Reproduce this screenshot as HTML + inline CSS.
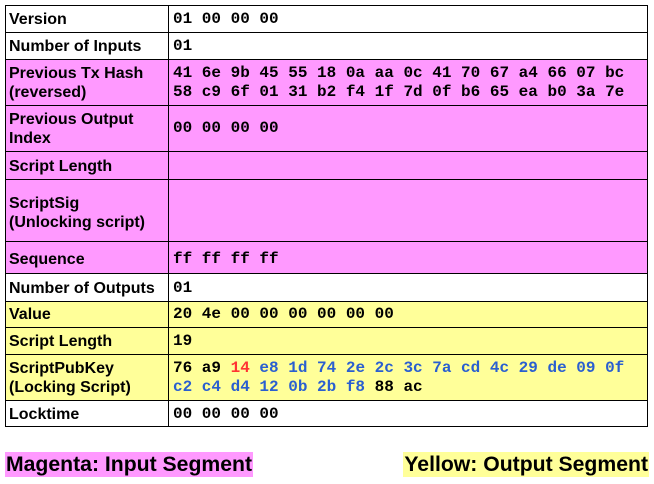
<!DOCTYPE html>
<html><head><style>
body{margin:0;width:654px;height:484px;background:#fff;position:relative;font-family:"Liberation Sans",sans-serif;}
.r{position:absolute;left:5px;width:643px;border:1px solid #000;box-sizing:border-box;}
.c{position:absolute;top:0;bottom:0;left:162px;border-left:1px solid #000;}
.l{position:absolute;left:3px;font-weight:bold;font-size:16px;line-height:19px;}
.v{position:absolute;left:167px;font-family:"Liberation Mono",monospace;font-weight:bold;font-size:16px;line-height:19px;white-space:pre;}
.m{background:#ff99ff}.y{background:#ffff99}
.b{color:#2a5fd0}.rd{color:#ff3333}
.lab{position:absolute;top:452px;font-weight:bold;font-size:21.2px;line-height:25px;padding:0 1px;}
</style></head><body>
<div class="r" style="top:5px;height:28px"><div class="c"></div><div class="l" style="top:4px">Version</div><div class="v" style="top:4px">01 00 00 00</div></div>
<div class="r" style="top:32px;height:28px"><div class="c"></div><div class="l" style="top:4px">Number of Inputs</div><div class="v" style="top:4px">01</div></div>
<div class="r m" style="top:59px;height:47px"><div class="c"></div><div class="l" style="top:4px">Previous Tx Hash<br>(reversed)</div><div class="v" style="top:4px">41 6e 9b 45 55 18 0a aa 0c 41 70 67 a4 66 07 bc
58 c9 6f 01 31 b2 f4 1f 7d 0f b6 65 ea b0 3a 7e</div></div>
<div class="r m" style="top:105px;height:47px"><div class="c"></div><div class="l" style="top:4px">Previous Output<br>Index</div><div class="v" style="top:13px">00 00 00 00</div></div>
<div class="r m" style="top:151px;height:29px"><div class="c"></div><div class="l" style="top:5px">Script Length</div></div>
<div class="r m" style="top:179px;height:63px"><div class="c"></div><div class="l" style="top:14px">ScriptSig<br>(Unlocking script)</div></div>
<div class="r m" style="top:241px;height:33px"><div class="c"></div><div class="l" style="top:8px">Sequence</div><div class="v" style="top:8px">ff ff ff ff</div></div>
<div class="r" style="top:273px;height:29px"><div class="c"></div><div class="l" style="top:5px">Number of Outputs</div><div class="v" style="top:5px">01</div></div>
<div class="r y" style="top:301px;height:27px"><div class="c"></div><div class="l" style="top:3px">Value</div><div class="v" style="top:3px">20 4e 00 00 00 00 00 00</div></div>
<div class="r y" style="top:327px;height:28px"><div class="c"></div><div class="l" style="top:4px">Script Length</div><div class="v" style="top:4px">19</div></div>
<div class="r y" style="top:354px;height:47px"><div class="c"></div><div class="l" style="top:4px">ScriptPubKey<br>(Locking Script)</div><div class="v" style="top:4px">76 a9 <span class="rd">14</span> <span class="b">e8 1d 74 2e 2c 3c 7a cd 4c 29 de 09 0f</span>
<span class="b">c2 c4 d4 12 0b 2b f8</span> 88 ac</div></div>
<div class="r" style="top:400px;height:27px"><div class="c"></div><div class="l" style="top:4px">Locktime</div><div class="v" style="top:4px">00 00 00 00</div></div>
<div class="lab m" style="left:5px">Magenta: Input Segment</div>
<div class="lab y" style="right:5px">Yellow: Output Segment</div>
</body></html>
